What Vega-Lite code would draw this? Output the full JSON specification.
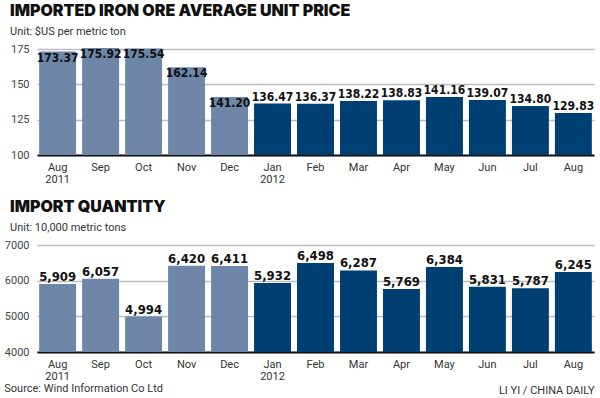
{
  "$schema": "https://vega.github.io/schema/vega-lite/v6.json",
  "background": "white",
  "padding": {"left": 4, "top": 3, "right": 6, "bottom": 2},
  "datasets": {
    "d": [
      {"month": "Aug 2011", "period": "2011", "price": 173.37, "qty": 5909},
      {"month": "Sep", "period": "2011", "price": 175.92, "qty": 6057},
      {"month": "Oct", "period": "2011", "price": 175.54, "qty": 4994},
      {"month": "Nov", "period": "2011", "price": 162.14, "qty": 6420},
      {"month": "Dec", "period": "2011", "price": 141.20, "qty": 6411},
      {"month": "Jan 2012", "period": "2012", "price": 136.47, "qty": 5932},
      {"month": "Feb", "period": "2012", "price": 136.37, "qty": 6498},
      {"month": "Mar", "period": "2012", "price": 138.22, "qty": 6287},
      {"month": "Apr", "period": "2012", "price": 138.83, "qty": 5769},
      {"month": "May", "period": "2012", "price": 141.16, "qty": 6384},
      {"month": "Jun", "period": "2012", "price": 139.07, "qty": 5831},
      {"month": "Jul", "period": "2012", "price": 134.80, "qty": 5787},
      {"month": "Aug", "period": "2012", "price": 129.83, "qty": 6245}
    ]
  },
  "title": {
    "text": "Source: Wind Information Co Ltd",
    "orient": "bottom",
    "anchor": "start",
    "frame": "bounds",
    "fontSize": 11,
    "font": "Roboto",
    "fontWeight": "normal",
    "color": "#333",
    "offset": -12
  },
  "spacing": 15,
  "vconcat": [
    {
      "title": {
        "text": "IMPORTED IRON ORE AVERAGE UNIT PRICE",
        "subtitle": "Unit: $US per metric ton",
        "anchor": "start",
        "frame": "group",
        "dx": -27,
        "font": "Inter",
        "fontWeight": 900,
        "fontSize": 16,
        "color": "#111",
        "subtitleFont": "Roboto",
        "subtitleFontSize": 11,
        "subtitleColor": "#333",
        "subtitlePadding": 7,
        "offset": 6
      },
      "width": 557,
      "height": 110,
      "data": {"name": "d"},
      "encoding": {
        "x": {
          "field": "month",
          "type": "ordinal",
          "sort": null,
          "scale": {"paddingInner": 0.14, "paddingOuter": 0.05},
          "axis": {"title": null}
        },
        "y": {
          "field": "price",
          "type": "quantitative",
          "scale": {"domain": [100, 178], "nice": false, "zero": false},
          "axis": {"values": [100, 125, 150, 175], "title": null, "format": "d"}
        }
      },
      "layer": [
        {
          "mark": {"type": "bar"},
          "encoding": {
            "y2": {"datum": 100},
            "color": {
              "field": "period",
              "type": "nominal",
              "scale": {"domain": ["2011", "2012"], "range": ["#6e86a8", "#003f72"]},
              "legend": null
            }
          }
        },
        {
          "transform": [{"filter": "datum.period == '2011'"}],
          "mark": {"type": "text", "baseline": "top", "dy": 1, "font": "DejaVu Sans Condensed, Liberation Sans, sans-serif", "fontWeight": "bold", "fontSize": 12, "color": "#111"},
          "encoding": {
            "text": {"field": "price", "type": "quantitative", "format": ".2f"}
          }
        },
        {
          "transform": [{"filter": "datum.period == '2012'"}],
          "mark": {"type": "text", "baseline": "alphabetic", "dy": -3, "font": "DejaVu Sans Condensed, Liberation Sans, sans-serif", "fontWeight": "bold", "fontSize": 12, "color": "#111"},
          "encoding": {
            "text": {"field": "price", "type": "quantitative", "format": ".2f"}
          }
        }
      ]
    },
    {
      "title": {
        "text": "IMPORT QUANTITY",
        "subtitle": "Unit: 10,000 metric tons",
        "anchor": "start",
        "frame": "group",
        "dx": -27,
        "font": "Inter",
        "fontWeight": 900,
        "fontSize": 16,
        "color": "#111",
        "subtitleFont": "Roboto",
        "subtitleFontSize": 11,
        "subtitleColor": "#333",
        "subtitlePadding": 7,
        "offset": 6
      },
      "width": 557,
      "height": 107,
      "data": {"name": "d"},
      "encoding": {
        "x": {
          "field": "month",
          "type": "ordinal",
          "sort": null,
          "scale": {"paddingInner": 0.14, "paddingOuter": 0.05},
          "axis": {
            "title": "LI YI / CHINA DAILY",
            "titleAnchor": "end",
            "titleAlign": "right",
            "titleFont": "Roboto",
            "titleFontWeight": "normal",
            "titleFontSize": 11,
            "titleColor": "#333",
            "titlePadding": 3
          }
        },
        "y": {
          "field": "qty",
          "type": "quantitative",
          "scale": {"domain": [4000, 7000], "nice": false, "zero": false},
          "axis": {"values": [4000, 5000, 6000, 7000], "title": null, "format": "d"}
        }
      },
      "layer": [
        {
          "mark": {"type": "bar"},
          "encoding": {
            "y2": {"datum": 4000},
            "color": {
              "field": "period",
              "type": "nominal",
              "scale": {"domain": ["2011", "2012"], "range": ["#6e86a8", "#003f72"]},
              "legend": null
            }
          }
        },
        {
          "mark": {"type": "text", "baseline": "alphabetic", "dy": -3, "font": "DejaVu Sans Condensed, Liberation Sans, sans-serif", "fontWeight": "bold", "fontSize": 13, "color": "#111"},
          "encoding": {
            "text": {"field": "qty", "type": "quantitative", "format": ",d"}
          }
        }
      ]
    }
  ],
  "config": {
    "view": {"stroke": null},
    "axisX": {
      "domain": true,
      "domainColor": "#111",
      "domainWidth": 2,
      "ticks": false,
      "labelAngle": 0,
      "labelFont": "Roboto",
      "labelFontSize": 11,
      "labelColor": "#333",
      "labelPadding": 6,
      "labelLineHeight": 12,
      "labelExpr": "split(datum.value, ' ')",
      "grid": false
    },
    "axisY": {
      "domain": false,
      "ticks": false,
      "grid": true,
      "gridColor": "#bdbdbd",
      "gridWidth": 1.5,
      "labelFont": "Roboto",
      "labelFontSize": 11,
      "labelColor": "#444",
      "labelPadding": 8
    }
  }
}
